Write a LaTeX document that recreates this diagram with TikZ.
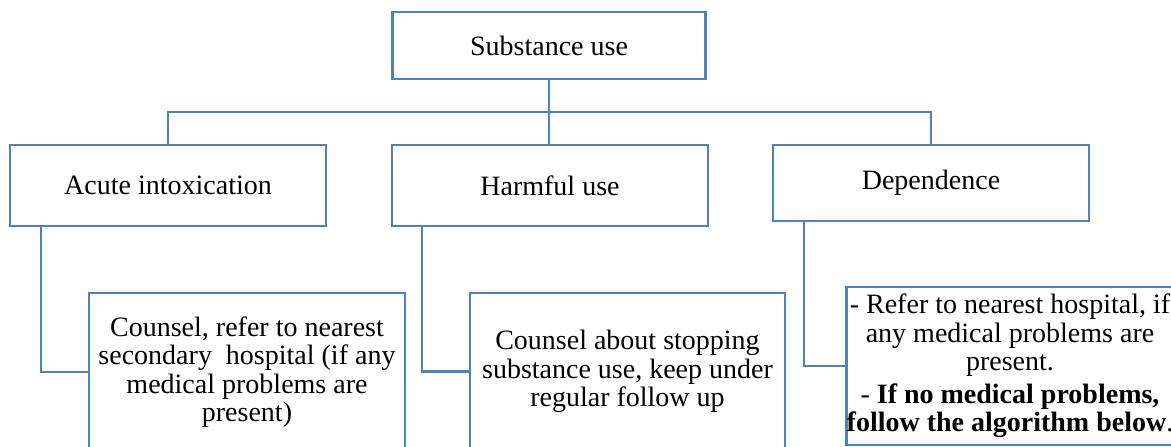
\documentclass[tikz,border=0pt]{standalone}
\usepackage{fontspec}
\setmainfont{Liberation Serif}
\definecolor{boxblue}{RGB}{79,129,189}
\begin{document}
\begin{tikzpicture}[x=1pt,y=-1pt,
  box/.style={draw=boxblue,line width=2.4pt,rectangle,inner sep=0pt,
    minimum width=#1,align=center,font=\fontsize{28}{28.5}\selectfont},
  link/.style={draw=boxblue,line width=2.4pt}]
\useasboundingbox (0,0) rectangle (1171,447);
\clip (0,0) rectangle (1171,447);
\node[box=313pt,minimum height=67pt] (top) at (549,45.5) {Substance use};
\node[box=316pt,minimum height=81pt] (acute) at (168,185.5) {Acute intoxication};
\node[box=316pt,minimum height=81pt] (harm) at (550,185.5) {Harmful use};
\node[box=316pt,minimum height=76pt] (dep) at (931,183) {Dependence};
\node[box=316pt,minimum height=158pt] (a2) at (247,372)
  {Counsel, refer to nearest\\secondary\ \ hospital (if any\\medical problems are\\present)};
\node[box=315pt,minimum height=157pt] (h2) at (627.5,371.5)
  {Counsel about stopping\\substance use, keep under\\regular follow up};
\node[box=316pt,minimum height=158pt] (d2) at (1010,366)
  {- Refer to nearest hospital, if\\any medical problems are\\present.\\[4pt]
   - \textbf{If no medical problems,}\\\textbf{follow the algorithm below}.};
\coordinate (bus) at (549,112);
\draw[link] (top.south) -- (bus);
\draw[link] (acute.north) |- (bus) -| (dep.north);
\draw[link] (bus) -- (bus |- harm.north);
\draw[link] ([xshift=32pt]acute.south west) |- (a2.west);
\draw[link] ([xshift=31pt]harm.south west) |- (h2.west);
\draw[link] ([xshift=32pt]dep.south west) |- (d2.west);
\end{tikzpicture}
\end{document}
